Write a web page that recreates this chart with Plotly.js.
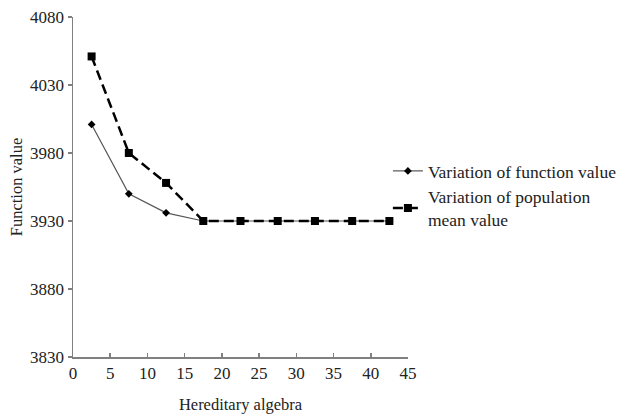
<!DOCTYPE html>
<html>
<head>
<meta charset="utf-8">
<script src="https://cdn.plot.ly/plotly-3.0.1.min.js"></script>
<style>html,body{margin:0;padding:0;background:#fff;}#chart{width:639px;height:420px;}</style>
</head>
<body>
<div id="chart"></div>
<script>
var generations = [2.5, 7.5, 12.5, 17.5, 22.5, 27.5, 32.5, 37.5, 42.5];
var functionValue = [4001, 3950, 3936, 3930, 3930, 3930, 3930, 3930, 3930];
var populationMean = [4051, 3980, 3958, 3930, 3930, 3930, 3930, 3930, 3930];
var xTicks = [0, 5, 10, 15, 20, 25, 30, 35, 40, 45];
var yTicks = [3830, 3880, 3930, 3980, 4030, 4080];

var font = "Liberation Serif, Times New Roman, serif";
var txt = "#222222";

var traces = [
  {
    x: generations, y: functionValue, type: "scatter", mode: "lines+markers",
    name: "Variation of function value",
    line: {color: "#555555", width: 1.2},
    marker: {symbol: "diamond", size: 6, color: "#000000"}
  },
  {
    x: generations, y: populationMean, type: "scatter", mode: "lines+markers",
    name: "Variation of population<br>mean value",
    line: {color: "#000000", width: 2.5, dash: "10px,5px"},
    marker: {symbol: "square", size: 8, color: "#000000"}
  }
];

var layout = {
  width: 639, height: 420,
  margin: {l: 73, r: 231, t: 17, b: 63},
  paper_bgcolor: "#ffffff", plot_bgcolor: "#ffffff",
  font: {family: font, size: 16.5, color: txt},
  showlegend: true,
  legend: {x: 0.94, y: 0.6, xanchor: "left", yanchor: "top",
           font: {family: font, size: 17.5, color: txt},
           itemwidth: 30, bgcolor: "rgba(0,0,0,0)"},
  xaxis: {
    range: [0, 45], tickvals: xTicks, ticktext: xTicks.map(String),
    showgrid: false, zeroline: false, showline: true, linecolor: "#808080", linewidth: 1.5,
    ticks: "inside", ticklen: 4, tickcolor: "#808080", tickwidth: 1.5,
    tickfont: {family: font, size: 17, color: txt},
    title: {text: "Hereditary algebra", font: {family: font, size: 16.5, color: txt}, standoff: 16}
  },
  yaxis: {
    range: [3830, 4080], tickvals: yTicks, ticktext: yTicks.map(String),
    showgrid: false, zeroline: false, showline: true, linecolor: "#808080", linewidth: 1.5,
    ticks: "outside", ticklen: 4, tickcolor: "#808080", tickwidth: 1.5,
    tickfont: {family: font, size: 17, color: txt},
    title: {text: "Function value", font: {family: font, size: 16.5, color: txt}, standoff: 3}
  }
};

Plotly.newPlot("chart", traces, layout, {displayModeBar: false, staticPlot: true});
</script>
</body>
</html>
